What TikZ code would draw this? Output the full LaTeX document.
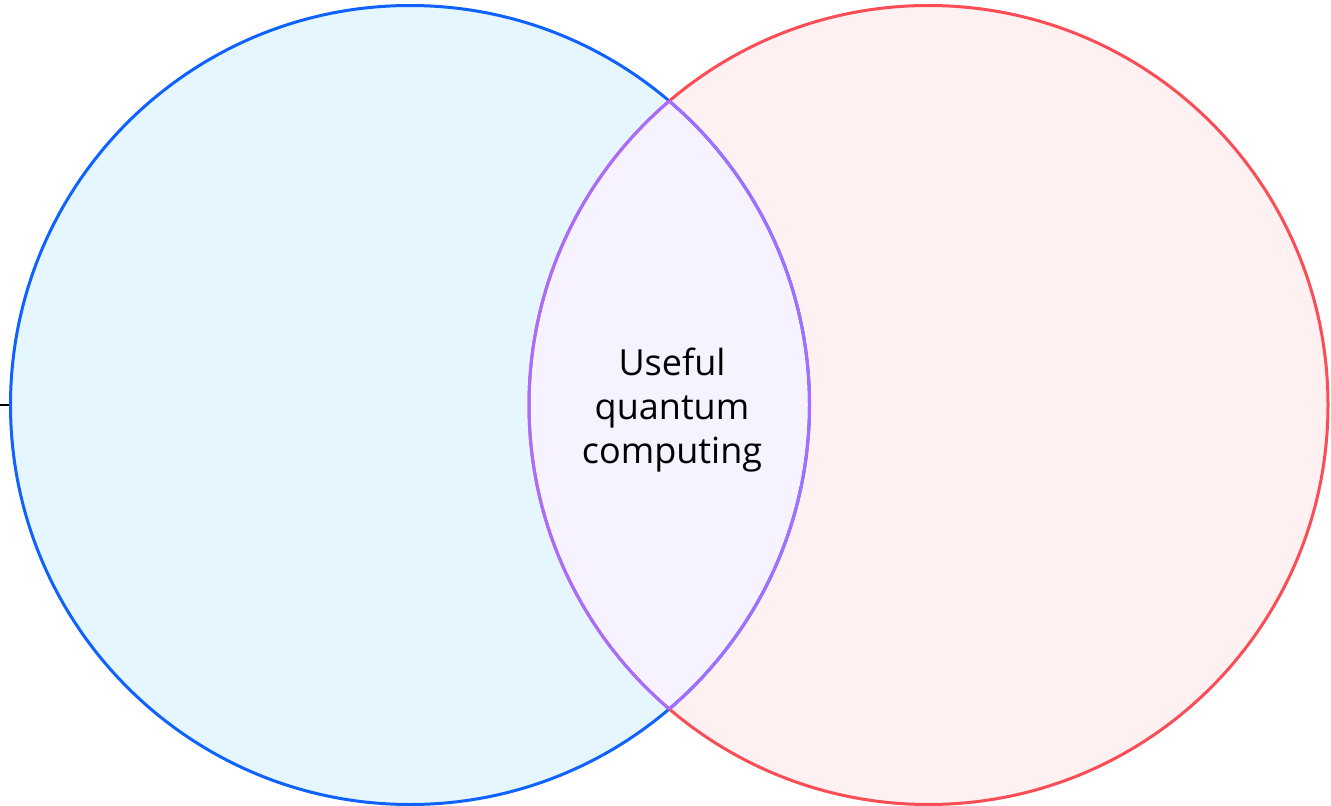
\documentclass[tikz,border=0pt]{standalone}
\usepackage{fontspec}
\setmainfont{Open Sans}
\definecolor{setblue}{HTML}{0F62FE}
\definecolor{setbluefill}{HTML}{E5F6FF}
\definecolor{setred}{HTML}{FA4D56}
\definecolor{setredfill}{HTML}{FFF1F1}
\definecolor{setpurple}{HTML}{A56EFF}
\definecolor{setpurplefill}{HTML}{F6F2FF}
\tikzset{
  ring/.style={line width=3pt},
  label text/.style={align=center, font=\fontsize{36}{44}\selectfont, text=black}
}
\begin{document}
\begin{tikzpicture}[x=1pt,y=-1pt]
  \useasboundingbox (0,0) rectangle (1331,806);
  % the two sets
  \coordinate (A) at (410,405);
  \coordinate (B) at (928.5,405);
  \fill[setbluefill] (A) circle[radius=399.5];
  \fill[setredfill] (B) circle[radius=399.5];
  % their overlap
  \begin{scope}
    \clip (A) circle[radius=399.5];
    \fill[setpurplefill] (B) circle[radius=399.5];
  \end{scope}
  % outlines
  \draw[ring, setblue] (A) circle[radius=399.5];
  \draw[ring, setred] (B) circle[radius=399.5];
  \begin{scope}
    \clip (A) circle[radius=399.5];
    \draw[ring, setpurple] (B) circle[radius=399.5];
  \end{scope}
  \begin{scope}
    \clip (B) circle[radius=399.5];
    \draw[ring, setpurple] (A) circle[radius=399.5];
  \end{scope}
  % small tick at the left edge
  \coordinate (tick) at (0,405);
  \draw[line width=2pt, black] (tick) -- (9,405);
  \node[label text] (overlap) at (672,410) {Useful\\quantum\\computing};
\end{tikzpicture}
\end{document}
